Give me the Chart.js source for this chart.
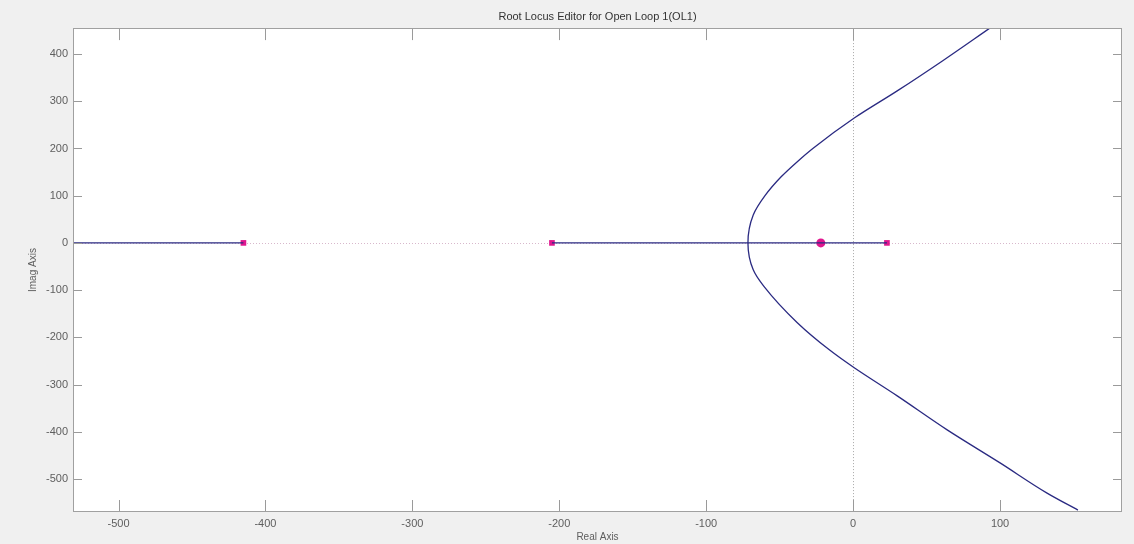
<!DOCTYPE html>
<html>
<head>
<meta charset="utf-8">
<script src="https://cdn.jsdelivr.net/npm/chart.js@4/dist/chart.umd.min.js"></script>
<style>
  html, body { margin: 0; padding: 0; background: #f0f0f0; overflow: hidden; }
  canvas { display: block; }
</style>
</head>
<body>
<canvas id="rlocus" width="1134" height="544"></canvas>
<script>
// axis limits and ticks
const xLimits = [-531, 183];
const yLimits = [-570, 455];
const tickStep = 100;

// open loop poles / zeros (all on the real axis)
const poles = [-415, -205, 23];
const zeros = [-22];

// real-axis parts of the locus (solid)
const realLocusLeft = [-531, -415];
const realLocusMid = [-205, 23];

// complex branch pair, bottom end -> breakaway -> top end
const branchRe = [153, 132, 100, 64, 30, 1, -16, -38, -61, -68, -71.6, -68, -60, -49, -38, -27, 1, 30, 61, 93];
const branchIm = [-566, -530, -466, -396, -324, -265, -227, -169, -91, -57, 0, 59, 100, 140, 172, 201, 265, 322, 386, 455];

const navy = '#2a2a82';
const magenta = '#e0168f';

const pts = (xs, ys) => xs.map((x, i) => ({ x: x, y: ys[i] }));
const onAxis = xs => xs.map(x => ({ x: x, y: 0 }));

// white plot area, dotted zero lines, box and inward ticks
const axesBox = {
  id: 'axesBox',
  beforeDraw(chart) {
    const { ctx, chartArea: a } = chart;
    ctx.save();
    ctx.fillStyle = '#f0f0f0';
    ctx.fillRect(0, 0, chart.width, chart.height);
    ctx.fillStyle = '#ffffff';
    ctx.fillRect(a.left, a.top, a.right - a.left, a.bottom - a.top);
    ctx.restore();
  },
  beforeDatasetsDraw(chart) {
    const { ctx, chartArea: a, scales } = chart;
    const x0 = scales.x.getPixelForValue(0);
    const y0 = scales.y.getPixelForValue(0);
    ctx.save();
    ctx.setLineDash([1, 2]);
    ctx.lineWidth = 1;
    ctx.strokeStyle = '#a8a8a8';
    ctx.beginPath();
    ctx.moveTo(Math.round(x0) + 0.5, a.top);
    ctx.lineTo(Math.round(x0) + 0.5, a.bottom);
    ctx.stroke();
    ctx.strokeStyle = '#d8b8cc';
    ctx.beginPath();
    ctx.moveTo(a.left, Math.round(y0) + 0.5);
    ctx.lineTo(a.right, Math.round(y0) + 0.5);
    ctx.stroke();
    ctx.restore();
  },
  afterDraw(chart) {
    const { ctx, chartArea: a, scales } = chart;
    ctx.save();
    ctx.strokeStyle = '#9a9a9a';
    ctx.lineWidth = 1;
    ctx.beginPath();
    scales.x.ticks.forEach(t => {
      const px = Math.round(scales.x.getPixelForValue(t.value)) + 0.5;
      ctx.moveTo(px, a.bottom); ctx.lineTo(px, a.bottom - 12);
      ctx.moveTo(px, a.top); ctx.lineTo(px, a.top + 12);
    });
    scales.y.ticks.forEach(t => {
      const py = Math.round(scales.y.getPixelForValue(t.value)) + 0.5;
      ctx.moveTo(a.left, py); ctx.lineTo(a.left + 9, py);
      ctx.moveTo(a.right, py); ctx.lineTo(a.right - 9, py);
    });
    ctx.stroke();
    ctx.strokeStyle = '#a0a0a0';
    ctx.strokeRect(Math.round(a.left) + 0.5, Math.round(a.top) + 0.5,
      Math.round(a.right - a.left) - 1, Math.round(a.bottom - a.top) - 1);
    ctx.restore();
  }
};

const lineStyle = { showLine: true, borderColor: navy, borderWidth: 1.3, pointRadius: 0, fill: false };

new Chart(document.getElementById('rlocus'), {
  type: 'scatter',
  data: {
    datasets: [
      Object.assign({ label: 'real left', data: onAxis(realLocusLeft) }, lineStyle),
      Object.assign({ label: 'real mid', data: onAxis(realLocusMid) }, lineStyle),
      // x as a function of y, so the spline is smooth through the breakaway point
      Object.assign({
        label: 'branches', data: pts(branchRe, branchIm),
        indexAxis: 'y', cubicInterpolationMode: 'monotone'
      }, lineStyle),
      {
        label: 'poles', data: onAxis(poles), pointStyle: 'rect', pointRadius: 4,
        backgroundColor: magenta, borderColor: magenta, borderWidth: 0
      },
      {
        label: 'zeros', data: onAxis(zeros), pointStyle: 'circle', pointRadius: 4.5,
        backgroundColor: magenta, borderColor: magenta, borderWidth: 0
      }
    ]
  },
  options: {
    responsive: false,
    animation: false,
    maintainAspectRatio: false,
    layout: { padding: { left: 0, right: 12, top: 0, bottom: 0 } },
    plugins: {
      legend: { display: false },
      tooltip: { enabled: false },
      title: {
        display: true,
        fullSize: false,
        text: 'Root Locus Editor for Open Loop 1(OL1)',
        color: '#333333',
        font: { family: 'Liberation Sans', size: 11, weight: 'normal', lineHeight: 1.1 },
        padding: { top: 11, bottom: 5 }
      }
    },
    scales: {
      x: {
        type: 'linear',
        min: xLimits[0],
        max: xLimits[1],
        afterFit: s => { s.height = 32; },
        grid: { display: false, drawTicks: false },
        border: { display: false },
        ticks: {
          stepSize: tickStep, includeBounds: false, padding: 5, maxRotation: 0,
          color: '#5e5e5e', font: { family: 'Liberation Sans', size: 11 }
        },
        title: {
          display: true, text: 'Real Axis', color: '#5e5e5e',
          font: { family: 'Liberation Sans', size: 10, lineHeight: 1.2 },
          padding: { top: 0, bottom: 1 }
        }
      },
      y: {
        type: 'linear',
        min: yLimits[0],
        max: yLimits[1],
        afterFit: s => { s.width = 73; },
        grid: { display: false, drawTicks: false },
        border: { display: false },
        ticks: {
          stepSize: tickStep, includeBounds: false, padding: 5,
          color: '#5e5e5e', font: { family: 'Liberation Sans', size: 11 }
        },
        title: {
          display: true, text: 'Imag Axis', color: '#5e5e5e',
          font: { family: 'Liberation Sans', size: 10, lineHeight: 1.2 },
          padding: { top: 27, bottom: 0 }
        }
      }
    }
  },
  plugins: [axesBox]
});
</script>
</body>
</html>
